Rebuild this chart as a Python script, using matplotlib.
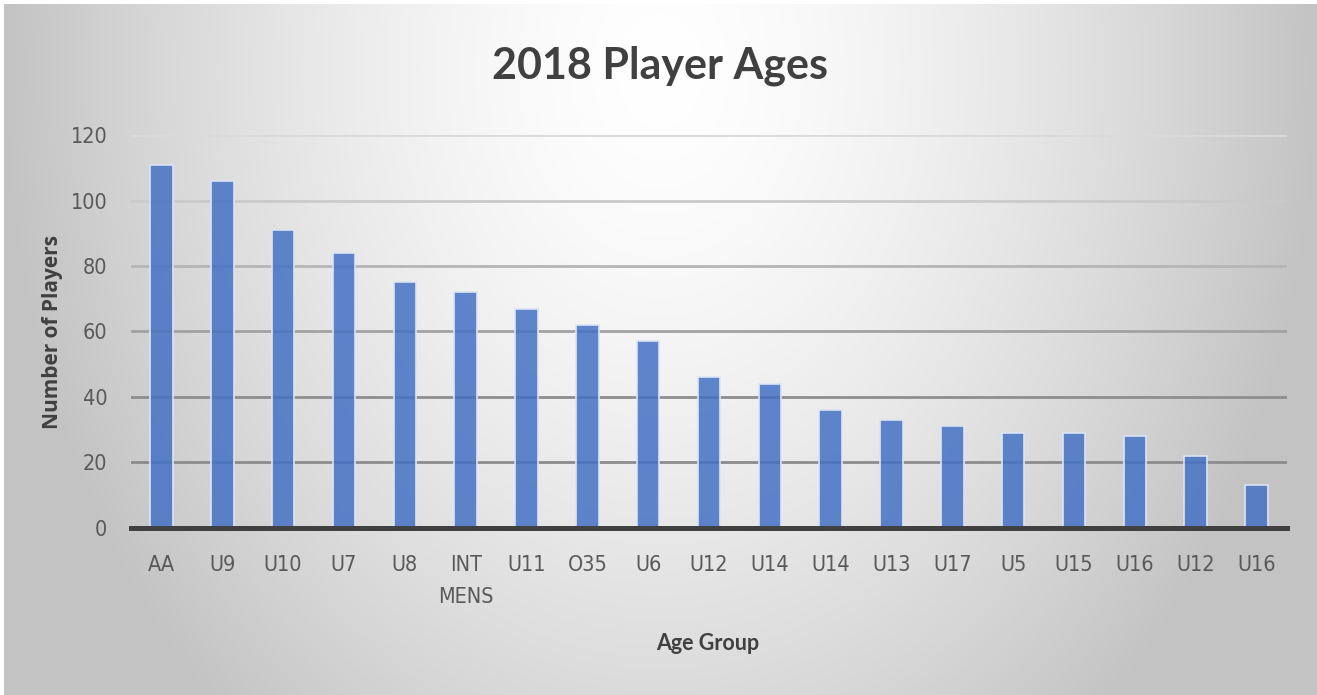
import numpy as np
import matplotlib
matplotlib.use("Agg")
import matplotlib.pyplot as plt
from matplotlib import font_manager as fm

# ---- data ----
categories = ["AA", "U9", "U10", "U7", "U8", "INT\nMENS", "U11", "O35", "U6", "U12",
              "U14", "U14", "U13", "U17", "U5", "U15", "U16", "U12", "U16"]
players = [111, 106, 91, 84, 75, 72, 67, 62, 57, 46, 44, 36, 33, 31, 29, 29, 28, 22, 13]
y_ticks = [0, 20, 40, 60, 80, 100, 120]
title = "2018 Player Ages"
x_label = "Age Group"
y_label = "Number of Players"

# narrow font for tick labels if available
narrow = None
for f in sorted(fm.findSystemFonts()):
    name = f.lower()
    if ("narrow" in name or "condensed" in name) and "bold" not in name and "italic" not in name \
            and "oblique" not in name:
        if narrow is None or "liberationsansnarrow" in name.replace("-", "").replace("_", ""):
            narrow = f
tick_size = 15.5
if narrow:
    tick_fp = fm.FontProperties(fname=narrow, size=tick_size)
else:
    tick_fp = fm.FontProperties(family="Liberation Sans", size=tick_size - 1.5)

W, H, DPI = 1317, 695, 100
fig = plt.figure(figsize=(W / DPI, H / DPI), dpi=DPI)
fig.patch.set_facecolor("white")

# ---- radial gradient background ----
bg = fig.add_axes([0, 0, 1, 1], zorder=-10)
yy, xx = np.mgrid[0:H, 0:W]
r = np.sqrt(((xx - 660) / 650.0) ** 2 + ((yy - 70) / 860.0) ** 2)
val = np.clip(1.0 - 0.23 * r ** 1.5, 0.765, 1.0)
img = np.dstack([val, val, val])
img[:4, :, :] = 1.0
img[:, :4, :] = 1.0
bg.imshow(img, extent=[0, W, H, 0], aspect="auto", interpolation="bilinear")
bg.set_xlim(0, W)
bg.set_ylim(H, 0)
bg.axis("off")

# ---- main axes ----
left, right = 131 / W, 1287 / W
bottom, top = 1 - 527.5 / H, 1 - 135.3 / H
ax = fig.add_axes([left, bottom, right - left, top - bottom])
ax.set_facecolor("none")

x = np.arange(len(categories))
ax.set_xlim(-0.5, len(categories) - 0.5)
ax.set_ylim(0, 120)

grid_colors = {20: "#8c8c8c", 40: "#8e8e8e", 60: "#a2a2a2", 80: "#b5b5b5", 100: "#cacaca", 120: "#dadada"}
for t in y_ticks[1:]:
    ax.axhline(t, color=grid_colors[t], lw=2.0, zorder=1)

ax.bar(x, players, width=0.37, color=(0.267, 0.447, 0.769, 0.85),
       edgecolor="#dbe4f4", linewidth=1.2, zorder=2)
ax.axhline(0, color="#404040", lw=3.6, zorder=3, clip_on=False)

for s in ax.spines.values():
    s.set_visible(False)

ax.set_yticks(y_ticks)
ax.set_yticklabels([str(t) for t in y_ticks], fontproperties=tick_fp, color="#595959")
ax.set_xticks(x)
ax.set_xticklabels(categories, linespacing=1.75, fontproperties=tick_fp, color="#595959")
ax.tick_params(axis="both", length=0)
ax.tick_params(axis="y", pad=17)
ax.tick_params(axis="x", pad=20)

fig.text(660 / W, 1 - 66 / H, title, ha="center", va="center",
         family=["Lato", "DejaVu Sans"], weight="bold", size=31, color="#404040")
fig.text(708 / W, 1 - 643 / H, x_label, ha="center", va="center",
         family=["Lato", "DejaVu Sans"], weight="bold", size=15.5, color="#404040")
fig.text(53 / W, 1 - 332 / H, y_label, ha="center", va="center", rotation=90,
         family=["Open Sans", "DejaVu Sans"], weight="bold", size=15, color="#404040")

fig.savefig("out.png", dpi=DPI)
